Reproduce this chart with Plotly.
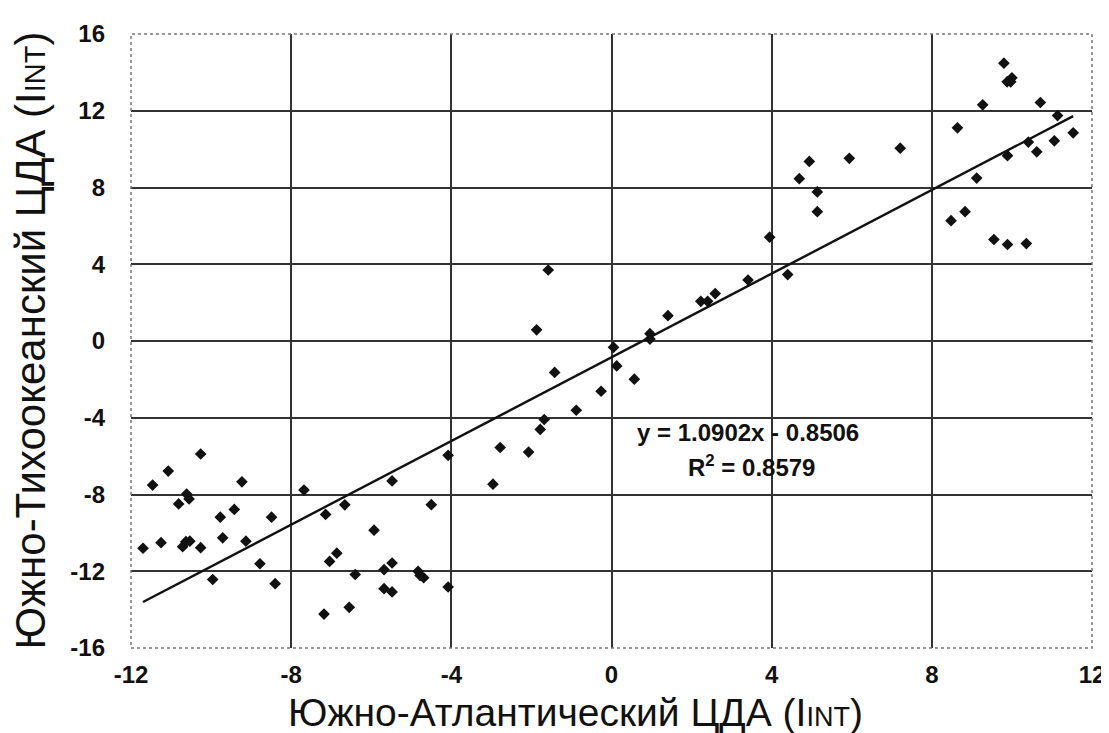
import plotly.graph_objects as go

# Data (Южно-Атлантический ЦДА vs Южно-Тихоокеанский ЦДА)
x_vals = [-11.70, -11.46, -11.07, -11.25, -10.81, -10.61, -10.55, -10.71, -10.63, -10.53,
          -10.26, -10.26, -9.96, -9.77, -9.71, -9.42, -9.23, -9.13, -8.78, -8.49,
          -8.40, -7.68, -7.14, -7.18, -7.04, -6.86, -6.66, -6.55, -6.40, -5.93,
          -5.68, -5.68, -5.48, -5.48, -5.48, -4.83, -4.78, -4.69, -4.50, -4.08,
          -4.08, -2.96, -2.78, -2.07, -1.78, -1.68, -1.87, -1.58, -1.42, -0.88,
          -0.26, 0.05, 0.13, 0.57, 0.96, 0.96, 1.41, 2.23, 2.40, 2.59,
          3.41, 3.95, 4.40, 4.69, 4.94, 5.14, 5.14, 5.94, 7.21, 8.48,
          8.83, 8.64, 9.12, 9.27, 9.55, 9.89, 10.36, 9.80, 9.88, 10.00,
          9.97, 9.89, 10.41, 10.62, 10.71, 11.06, 11.14, 11.53]
y_vals = [-10.80, -7.51, -6.78, -10.51, -8.49, -7.98, -8.23, -10.72, -10.46, -10.43,
          -5.89, -10.77, -12.43, -9.18, -10.26, -8.78, -7.34, -10.43, -11.61, -9.18,
          -12.65, -7.77, -9.04, -14.23, -11.49, -11.06, -8.54, -13.88, -12.17, -9.86,
          -11.92, -12.91, -11.57, -13.08, -7.29, -12.00, -12.22, -12.34, -8.53, -12.82,
          -5.96, -7.46, -5.55, -5.79, -4.61, -4.09, 0.58, 3.70, -1.64, -3.61,
          -2.62, -0.33, -1.30, -1.99, 0.38, 0.10, 1.32, 2.07, 2.07, 2.47,
          3.18, 5.41, 3.46, 8.46, 9.36, 7.77, 6.74, 9.52, 10.05, 6.27,
          6.74, 11.11, 8.49, 12.31, 5.29, 5.03, 5.08, 14.48, 13.51, 13.72,
          13.51, 9.66, 10.37, 9.86, 12.43, 10.43, 11.75, 10.85]

# Linear trend from the equation printed on the chart
slope = 1.0902
intercept = -0.8506
r_squared = 0.8579

x_ticks = [-12, -8, -4, 0, 4, 8, 12]
y_ticks = [-16, -12, -8, -4, 0, 4, 8, 12, 16]

x_title = "Южно-Атлантический ЦДА (I<span style='font-size:27px'>INT</span>)"
y_title = "Южно-Тихоокеанский ЦДА (I<span style='font-size:29px'>INT</span>)"

trend_x = [min(x_vals), max(x_vals)]
trend_y = [slope * v + intercept for v in trend_x]

FONT = "Liberation Sans, Arial"

fig = go.Figure()
fig.add_trace(go.Scatter(x=trend_x, y=trend_y, mode="lines",
                         line=dict(color="#111111", width=2.4), hoverinfo="skip"))
fig.add_trace(go.Scatter(x=x_vals, y=y_vals, mode="markers",
                         marker=dict(symbol="diamond", size=9, color="#111111")))

axis_common = dict(
    showgrid=True, gridcolor="#333333", gridwidth=1.6,
    zeroline=False, showline=False, ticks="",
    tickfont=dict(family=FONT, size=24, color="#111111", weight="bold"),
)

fig.update_xaxes(range=[-12, 12], tickvals=x_ticks, ticktext=[str(v) for v in x_ticks],
                 ticklabelstandoff=10, **axis_common)
fig.update_yaxes(range=[-16, 16], tickvals=y_ticks, ticktext=[str(v) for v in y_ticks],
                 ticklabelstandoff=25, **axis_common)

# Axis titles placed as annotations to match the reference position
fig.add_annotation(x=(572 - 123) / 970, y=(640 - 705) / 623, xref="paper", yref="paper",
                   text=x_title, showarrow=False, xanchor="center", yanchor="middle",
                   font=dict(family=FONT, size=39, color="#111111"))
fig.add_annotation(x=(22 - 123) / 970, y=(640 - 328) / 623, xref="paper", yref="paper",
                   text=y_title, showarrow=False, textangle=-90, xanchor="center", yanchor="middle",
                   font=dict(family=FONT, size=42, color="#111111"))

fig.add_annotation(x=3.42, y=-4.75, xref="x", yref="y",
                   text=f"y = {slope:.4f}x - {abs(intercept):.4f}", showarrow=False,
                   font=dict(family=FONT, size=24, color="#111111", weight="bold"))
fig.add_annotation(x=3.5, y=-6.5, xref="x", yref="y",
                   text=f"R<sup>2</sup> = {r_squared:.4f}", showarrow=False,
                   font=dict(family=FONT, size=24, color="#111111", weight="bold"))

fig.add_shape(type="rect", xref="paper", yref="paper", x0=0, x1=1, y0=0, y1=1,
              line=dict(color="#777777", width=1.5, dash="dot"), layer="above")

fig.update_layout(
    width=1109, height=733,
    margin=dict(l=123, r=16, t=17, b=93),
    paper_bgcolor="white", plot_bgcolor="white",
    showlegend=False,
)

fig.write_html("out.html")
